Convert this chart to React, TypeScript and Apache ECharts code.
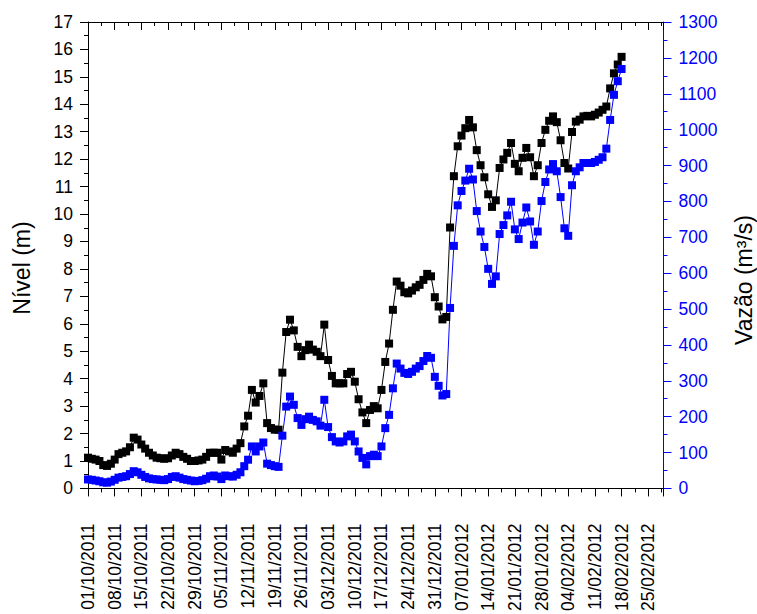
import React, { useEffect, useRef } from "react";
import * as echarts from "echarts";

// Daily series starting 01/10/2011 (day index 0)
const startDate = "2011-10-01";
const nivel: number[] = [
  1.12, 1.08, 1.05, 1.0, 0.85, 0.82, 0.9, 1.05, 1.25, 1.3,
  1.35, 1.5, 1.85, 1.78, 1.6, 1.45, 1.3, 1.2, 1.12, 1.1,
  1.08, 1.1, 1.2, 1.3, 1.25, 1.15, 1.08, 1.0, 1.0, 1.02,
  1.05, 1.15, 1.3, 1.3, 1.3, 1.05, 1.4, 1.35, 1.3, 1.45,
  1.65, 2.26, 2.65, 3.59, 3.13, 3.37, 3.83, 2.38, 2.2, 2.14,
  2.14, 4.22, 5.7, 6.15, 5.76, 5.16, 4.82, 5.04, 5.24, 5.06,
  4.98, 4.82, 5.97, 4.68, 4.1, 3.83, 3.83, 3.83, 4.17, 4.25,
  3.89, 3.25, 2.77, 2.38, 2.86, 3.0, 2.92, 3.59, 4.61, 5.28,
  6.51, 7.54, 7.39, 7.15, 7.11, 7.21, 7.33, 7.42, 7.6, 7.82,
  7.73, 6.97, 6.63, 6.16, 6.25, 9.51, 11.38, 12.47, 12.86, 13.13,
  13.43, 13.16, 12.33, 11.78, 11.34, 10.72, 10.26, 10.5, 11.68, 11.99,
  12.23, 12.59, 11.83, 11.56, 12.05, 12.41, 12.07, 11.38, 11.78, 12.59,
  13.07, 13.4, 13.56, 13.35, 12.69, 11.86, 11.66, 12.99, 13.37, 13.44,
  13.56, 13.58, 13.56, 13.62, 13.7, 13.8, 13.92, 14.58, 15.13, 15.45,
  15.73,
];
const vazao: number[] = [
  25, 24, 22, 20, 17, 16, 19, 24, 30, 32,
  34, 40, 48, 45, 38, 32, 28, 26, 25, 24,
  23, 26, 32, 34, 30, 26, 24, 22, 20, 21,
  23, 27, 34, 36, 33, 26, 36, 34, 33, 38,
  45, 62, 80, 117, 103, 117, 128, 69, 65, 62,
  60, 147, 228, 256, 233, 196, 177, 193, 200, 191,
  187, 175, 247, 171, 143, 131, 128, 131, 145, 150,
  131, 103, 85, 67, 90, 94, 90, 117, 168, 205,
  279, 348, 334, 322, 319, 325, 334, 341, 355, 369,
  364, 311, 286, 259, 263, 503, 676, 789, 829, 858,
  891, 861, 773, 716, 673, 612, 570, 591, 709, 734,
  761, 799, 722, 695, 741, 783, 744, 679, 716, 801,
  854, 889, 904, 884, 812, 725, 704, 845, 884, 895,
  907, 907, 907, 910, 916, 923, 947, 1027, 1097, 1135,
  1169,
];
const xMaxDay = 151; // 29/02/2012
const xTickDays = 7;
const nivelTicks = { min: 0, max: 17, interval: 1 };
const vazaoTicks = { min: 0, max: 1300, interval: 100 };
const nivelName = "Nível (m)";
const vazaoName = "Vazão (m³/s)";

const FONT = "'Liberation Sans', Arial, sans-serif";
const BLUE = "#0000ff";

function dayLabel(d: number): string {
  const base = new Date(startDate + "T00:00:00Z").getTime();
  const dt = new Date(base + d * 86400000);
  const dd = String(dt.getUTCDate()).padStart(2, "0");
  const mm = String(dt.getUTCMonth() + 1).padStart(2, "0");
  return `${dd}/${mm}/${dt.getUTCFullYear()}`;
}

export default function App() {
  const ref = useRef<HTMLDivElement>(null);
  useEffect(() => {
    document.body.style.margin = "0";
    if (!ref.current) return;
    const chart = echarts.init(ref.current, undefined, { renderer: "svg" });
    const xCommon = {
      type: "value" as const,
      min: 0,
      max: xMaxDay,
      interval: xTickDays,
      splitLine: { show: false },
      axisLine: { show: true, onZero: false, lineStyle: { color: "#000", width: 1 } },
    };
    chart.setOption({
      animation: false,
      backgroundColor: "#fff",
      grid: { left: 88, right: 93.5, top: 22, bottom: 125 },
      xAxis: [
        {
          ...xCommon,
          position: "bottom",
          axisTick: { show: true, inside: false, length: 8, lineStyle: { color: "#000" } },
          minorTick: { show: true, splitNumber: 2, length: 4, lineStyle: { color: "#000" } },
          axisLabel: {
            rotate: 90,
            margin: 35,
            color: "#000",
            fontSize: 17.5,
            fontFamily: FONT,
            showMaxLabel: false,
            formatter: (v: number) => (v % xTickDays === 0 ? dayLabel(v) : ""),
          },
        },
        {
          ...xCommon,
          position: "top",
          axisTick: { show: true, inside: true, length: 8, lineStyle: { color: "#000" } },
          minorTick: { show: true, splitNumber: 2, length: 4, lineStyle: { color: "#000" } },
          axisLabel: { show: false },
        },
      ],
      yAxis: [
        {
          type: "value",
          position: "left",
          ...nivelTicks,
          splitLine: { show: false },
          axisLine: { show: true, onZero: false, lineStyle: { color: "#000", width: 1 } },
          axisTick: { show: true, inside: false, length: 8, lineStyle: { color: "#000" } },
          minorTick: { show: true, splitNumber: 2, length: 4, lineStyle: { color: "#000" } },
          axisLabel: { color: "#000", fontSize: 17.5, fontFamily: FONT, margin: 15 },
        },
        {
          type: "value",
          position: "right",
          ...vazaoTicks,
          splitLine: { show: false },
          axisLine: { show: true, onZero: false, lineStyle: { color: BLUE, width: 1 } },
          axisTick: { show: true, inside: false, length: 8, lineStyle: { color: BLUE } },
          minorTick: { show: true, splitNumber: 2, length: 4, lineStyle: { color: BLUE } },
          axisLabel: {
            color: BLUE,
            fontSize: 17.5,
            fontFamily: FONT,
            margin: 15,
            formatter: (v: number) => String(v),
          },
        },
      ],
      graphic: [
        {
          type: "text",
          x: 22,
          y: 268,
          rotation: Math.PI / 2,
          style: {
            text: nivelName,
            fontSize: 23,
            fontFamily: FONT,
            fill: "#000",
            align: "center",
            verticalAlign: "middle",
          },
        },
        {
          type: "text",
          x: 744,
          y: 280,
          rotation: Math.PI / 2,
          style: {
            text: vazaoName,
            fontSize: 23,
            fontFamily: FONT,
            fill: "#000",
            align: "center",
            verticalAlign: "middle",
          },
        },
      ],
      series: [
        {
          type: "line",
          name: "Nível",
          xAxisIndex: 0,
          yAxisIndex: 0,
          data: nivel.map((v, i) => [i, v]),
          symbol: "rect",
          symbolSize: 8,
          itemStyle: { color: "#000" },
          lineStyle: { color: "#000", width: 1 },
          clip: false,
        },
        {
          type: "line",
          name: "Vazão",
          xAxisIndex: 0,
          yAxisIndex: 1,
          data: vazao.map((v, i) => [i, v]),
          symbol: "rect",
          symbolSize: 8,
          itemStyle: { color: BLUE },
          lineStyle: { color: BLUE, width: 1 },
          clip: false,
        },
      ],
    });
    return () => chart.dispose();
  }, []);
  return <div ref={ref} style={{ width: 757, height: 614 }} />;
}
